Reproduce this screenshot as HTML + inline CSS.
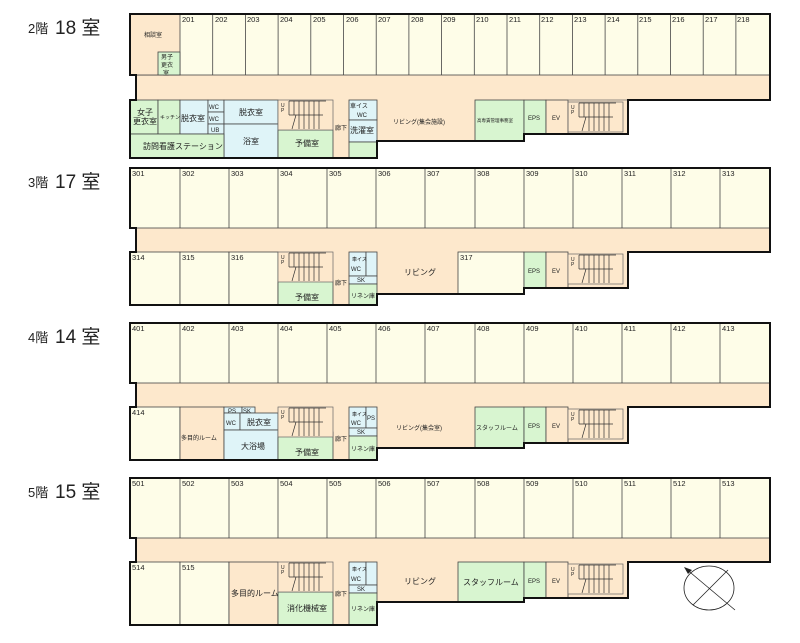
<!DOCTYPE html>
<html><head><meta charset="utf-8"><style>
body{margin:0;background:#fff;width:800px;height:638px;overflow:hidden}
svg text{font-family:"Liberation Sans","Noto Sans CJK JP",sans-serif;fill:#222}
.n{font-size:7.5px}
.l{font-size:8px}
.s{font-size:6px}
.t{font-size:5px}
</style></head><body>
<svg width="800" height="638" viewBox="0 0 800 638" xmlns="http://www.w3.org/2000/svg">
<defs>
<g id="stair">
<rect x="0" y="0" width="55" height="30" fill="#fde8cc" stroke="#666" stroke-width="0.7"/>
<text x="3" y="7" class="t">U</text><text x="3" y="12" class="t">P</text>
<g stroke="#333" stroke-width="0.7">
<line x1="11" y1="1" x2="11" y2="15"/><line x1="16" y1="1" x2="16" y2="15"/><line x1="21" y1="1" x2="21" y2="29"/><line x1="26" y1="1" x2="26" y2="29"/><line x1="31" y1="1" x2="31" y2="29"/><line x1="36" y1="1" x2="36" y2="29"/><line x1="41" y1="1" x2="41" y2="29"/>
<line x1="11" y1="15" x2="45" y2="15"/><line x1="11" y1="1" x2="48" y2="1"/>
<line x1="18" y1="15" x2="14" y2="29"/>
</g>
</g>
</defs>

<!-- ============ FLOOR 2 ============ -->
<text x="28" y="33" style="font-size:13px">2階</text><text x="55" y="34" style="font-size:19px">18 室</text>
<path d="M130 14H770V100H628V134H524V141H377V158H130V100H136V75H130Z" fill="#fde8cc"/>
<g stroke="#444" stroke-width="0.8">
<rect x="130" y="14" width="640" height="61" fill="#fefde8"/>
<rect x="130" y="14" width="50" height="61" fill="#fde8cc"/>
<rect x="158" y="52" width="22" height="23" fill="#d8f5d0"/>
<line x1="212.7" y1="14" x2="212.7" y2="75"/><line x1="245.4" y1="14" x2="245.4" y2="75"/><line x1="278.1" y1="14" x2="278.1" y2="75"/><line x1="310.8" y1="14" x2="310.8" y2="75"/><line x1="343.5" y1="14" x2="343.5" y2="75"/><line x1="376.2" y1="14" x2="376.2" y2="75"/><line x1="408.9" y1="14" x2="408.9" y2="75"/><line x1="441.6" y1="14" x2="441.6" y2="75"/><line x1="474.3" y1="14" x2="474.3" y2="75"/><line x1="507" y1="14" x2="507" y2="75"/><line x1="539.7" y1="14" x2="539.7" y2="75"/><line x1="572.4" y1="14" x2="572.4" y2="75"/><line x1="605.1" y1="14" x2="605.1" y2="75"/><line x1="637.8" y1="14" x2="637.8" y2="75"/><line x1="670.5" y1="14" x2="670.5" y2="75"/><line x1="703.2" y1="14" x2="703.2" y2="75"/><line x1="735.9" y1="14" x2="735.9" y2="75"/>
<rect x="130" y="100" width="28" height="34" fill="#d8f5d0"/>
<rect x="158" y="100" width="22" height="34" fill="#d8f5d0"/>
<rect x="180" y="100" width="28" height="34" fill="#dff4f8"/>
<rect x="208" y="100" width="16" height="12" fill="#dff4f8"/>
<rect x="208" y="112" width="16" height="12" fill="#dff4f8"/>
<rect x="208" y="124" width="16" height="10" fill="#dff4f8"/>
<rect x="224" y="100" width="54" height="24" fill="#dff4f8"/>
<rect x="224" y="124" width="54" height="34" fill="#dff4f8"/>
<rect x="130" y="134" width="94" height="24" fill="#d8f5d0"/>
<rect x="278" y="130" width="55" height="28" fill="#d8f5d0"/>
<rect x="349" y="100" width="28" height="20" fill="#dff4f8"/>
<rect x="349" y="120" width="28" height="22" fill="#dff4f8"/>
<rect x="349" y="142" width="28" height="16" fill="#d8f5d0"/>
<rect x="475" y="100" width="49" height="41" fill="#d8f5d0"/>
<rect x="524" y="100" width="22" height="34" fill="#d8f5d0"/>
<rect x="546" y="100" width="22" height="34" fill="#fde8cc"/>
</g>
<use href="#stair" x="278" y="100"/>
<use href="#stair" x="568" y="102"/>
<rect x="568" y="100" width="60" height="34" fill="none" stroke="#666" stroke-width="0.7"/>
<path d="M130 14H770V100H628V134H524V141H377V158H130V100H136V75H130Z" fill="none" stroke="#111" stroke-width="2"/>
<g class="n"><text x="182" y="22">201</text><text x="215" y="22">202</text><text x="247" y="22">203</text><text x="280" y="22">204</text><text x="313" y="22">205</text><text x="346" y="22">206</text><text x="378" y="22">207</text><text x="411" y="22">208</text><text x="443" y="22">209</text><text x="476" y="22">210</text><text x="509" y="22">211</text><text x="541" y="22">212</text><text x="574" y="22">213</text><text x="607" y="22">214</text><text x="639" y="22">215</text><text x="672" y="22">216</text><text x="705" y="22">217</text><text x="737" y="22">218</text></g>
<text x="144" y="37" class="s">相談室</text>
<text x="161" y="59" class="s">男子</text><text x="161" y="67" class="s">更衣</text><text x="163" y="75" class="s">室</text>
<text x="137" y="115" class="l">女子</text><text x="133" y="124" class="l">更衣室</text>
<text x="160" y="119" class="t">キッチン</text>
<text x="181" y="121" class="l">脱衣室</text>
<text x="209" y="109" class="s">WC</text><text x="209" y="121" class="s">WC</text><text x="211" y="132" class="s">UB</text>
<text x="239" y="115" class="l">脱衣室</text>
<text x="243" y="144" class="l">浴室</text>
<text x="143" y="149" class="l">訪問看護ステーション</text>
<text x="295" y="146" class="l">予備室</text>
<text x="335" y="130" class="s">廊下</text>
<text x="350" y="108" class="s">車イス</text><text x="357" y="117" class="s">WC</text>
<text x="350" y="133" class="l">洗濯室</text>
<text x="393" y="124" class="s">リビング(集会施設)</text>
<text x="477" y="122" style="font-size:4.5px">高専賃管理事務室</text>
<text x="528" y="120" class="s">EPS</text><text x="552" y="120" class="s">EV</text>

<!-- ============ FLOOR 3 ============ -->
<text x="28" y="187" style="font-size:13px">3階</text><text x="55" y="188" style="font-size:19px">17 室</text>
<path d="M130 168H770V252H628V288H524V294H377V305H130V252H136V228H130Z" fill="#fde8cc"/>
<g stroke="#444" stroke-width="0.8">
<rect x="130" y="168" width="640" height="60" fill="#fefde8"/>
<line x1="180" y1="168" x2="180" y2="228"/><line x1="229" y1="168" x2="229" y2="228"/><line x1="278" y1="168" x2="278" y2="228"/><line x1="327" y1="168" x2="327" y2="228"/><line x1="376" y1="168" x2="376" y2="228"/><line x1="425" y1="168" x2="425" y2="228"/><line x1="475" y1="168" x2="475" y2="228"/><line x1="524" y1="168" x2="524" y2="228"/><line x1="573" y1="168" x2="573" y2="228"/><line x1="622" y1="168" x2="622" y2="228"/><line x1="671" y1="168" x2="671" y2="228"/><line x1="720" y1="168" x2="720" y2="228"/>
<rect x="130" y="252" width="50" height="53" fill="#fefde8"/>
<rect x="180" y="252" width="49" height="53" fill="#fefde8"/>
<rect x="229" y="252" width="49" height="53" fill="#fefde8"/>
<rect x="278" y="281" width="55" height="24" fill="#d8f5d0"/>
<rect x="349" y="252" width="17" height="24" fill="#dff4f8"/>
<rect x="366" y="252" width="11" height="24" fill="#dff4f8"/>
<rect x="349" y="276" width="28" height="8" fill="#dff4f8"/>
<rect x="349" y="284" width="28" height="21" fill="#d8f5d0"/>
<rect x="458" y="252" width="66" height="42" fill="#fefde8"/>
<rect x="524" y="252" width="22" height="36" fill="#d8f5d0"/>
<rect x="546" y="252" width="22" height="36" fill="#fde8cc"/>
</g>
<use href="#stair" x="278" y="252"/>
<use href="#stair" x="568" y="254"/>
<path d="M130 168H770V252H628V288H524V294H377V305H130V252H136V228H130Z" fill="none" stroke="#111" stroke-width="2"/>
<g class="n"><text x="132" y="176">301</text><text x="182" y="176">302</text><text x="231" y="176">303</text><text x="280" y="176">304</text><text x="329" y="176">305</text><text x="378" y="176">306</text><text x="427" y="176">307</text><text x="477" y="176">308</text><text x="526" y="176">309</text><text x="575" y="176">310</text><text x="624" y="176">311</text><text x="673" y="176">312</text><text x="722" y="176">313</text>
<text x="132" y="260">314</text><text x="182" y="260">315</text><text x="231" y="260">316</text><text x="460" y="260">317</text></g>
<text x="295" y="300" class="l">予備室</text>
<text x="335" y="285" class="s">廊下</text>
<text x="352" y="261" class="t">車イス</text><text x="351" y="271" class="s">WC</text>
<text x="357" y="282" class="s">SK</text>
<text x="351" y="298" class="s">リネン庫</text>
<text x="404" y="275" class="l">リビング</text>
<text x="528" y="273" class="s">EPS</text><text x="552" y="273" class="s">EV</text>

<!-- ============ FLOOR 4 ============ -->
<text x="28" y="342" style="font-size:13px">4階</text><text x="55" y="343" style="font-size:19px">14 室</text>
<path d="M130 323H770V407H628V443H524V448H377V460H130V407H136V383H130Z" fill="#fde8cc"/>
<g stroke="#444" stroke-width="0.8">
<rect x="130" y="323" width="640" height="60" fill="#fefde8"/>
<line x1="180" y1="323" x2="180" y2="383"/><line x1="229" y1="323" x2="229" y2="383"/><line x1="278" y1="323" x2="278" y2="383"/><line x1="327" y1="323" x2="327" y2="383"/><line x1="376" y1="323" x2="376" y2="383"/><line x1="425" y1="323" x2="425" y2="383"/><line x1="475" y1="323" x2="475" y2="383"/><line x1="524" y1="323" x2="524" y2="383"/><line x1="573" y1="323" x2="573" y2="383"/><line x1="622" y1="323" x2="622" y2="383"/><line x1="671" y1="323" x2="671" y2="383"/><line x1="720" y1="323" x2="720" y2="383"/>
<rect x="130" y="407" width="50" height="53" fill="#fefde8"/>
<rect x="180" y="407" width="44" height="53" fill="#fde8cc"/>
<rect x="224" y="407" width="18" height="6" fill="#dff4f8"/>
<rect x="242" y="407" width="13" height="6" fill="#dff4f8"/>
<rect x="224" y="413" width="16" height="17" fill="#dff4f8"/>
<rect x="240" y="413" width="38" height="17" fill="#dff4f8"/>
<rect x="224" y="430" width="54" height="30" fill="#dff4f8"/>
<rect x="278" y="432" width="55" height="28" fill="#d8f5d0"/>
<rect x="349" y="407" width="17" height="21" fill="#dff4f8"/>
<rect x="366" y="407" width="11" height="21" fill="#dff4f8"/>
<rect x="349" y="428" width="28" height="8" fill="#dff4f8"/>
<rect x="349" y="436" width="28" height="24" fill="#d8f5d0"/>
<rect x="475" y="407" width="49" height="41" fill="#d8f5d0"/>
<rect x="524" y="407" width="22" height="36" fill="#d8f5d0"/>
<rect x="546" y="407" width="22" height="36" fill="#fde8cc"/>
</g>
<use href="#stair" x="278" y="407"/>
<use href="#stair" x="568" y="409"/>
<path d="M130 323H770V407H628V443H524V448H377V460H130V407H136V383H130Z" fill="none" stroke="#111" stroke-width="2"/>
<g class="n"><text x="132" y="331">401</text><text x="182" y="331">402</text><text x="231" y="331">403</text><text x="280" y="331">404</text><text x="329" y="331">405</text><text x="378" y="331">406</text><text x="427" y="331">407</text><text x="477" y="331">408</text><text x="526" y="331">409</text><text x="575" y="331">410</text><text x="624" y="331">411</text><text x="673" y="331">412</text><text x="722" y="331">413</text>
<text x="132" y="415">414</text></g>
<text x="181" y="440" class="s">多目的ルーム</text>
<text x="228" y="413" class="s">PS</text><text x="243" y="413" class="s">SK</text>
<text x="226" y="425" class="s">WC</text>
<text x="247" y="425" class="l">脱衣室</text>
<text x="241" y="449" class="l">大浴場</text>
<text x="295" y="455" class="l">予備室</text>
<text x="335" y="441" class="s">廊下</text>
<text x="352" y="416" class="t">車イス</text><text x="351" y="425" class="s">WC</text><text x="367" y="420" class="s">PS</text>
<text x="357" y="434" class="s">SK</text>
<text x="351" y="451" class="s">リネン庫</text>
<text x="396" y="430" class="s">リビング(集会室)</text>
<text x="476" y="430" class="s">スタッフルーム</text>
<text x="528" y="428" class="s">EPS</text><text x="552" y="428" class="s">EV</text>

<!-- ============ FLOOR 5 ============ -->
<text x="28" y="497" style="font-size:13px">5階</text><text x="55" y="498" style="font-size:19px">15 室</text>
<path d="M130 478H770V562H628V598H524V602H377V625H130V562H136V538H130Z" fill="#fde8cc"/>
<g stroke="#444" stroke-width="0.8">
<rect x="130" y="478" width="640" height="60" fill="#fefde8"/>
<line x1="180" y1="478" x2="180" y2="538"/><line x1="229" y1="478" x2="229" y2="538"/><line x1="278" y1="478" x2="278" y2="538"/><line x1="327" y1="478" x2="327" y2="538"/><line x1="376" y1="478" x2="376" y2="538"/><line x1="425" y1="478" x2="425" y2="538"/><line x1="475" y1="478" x2="475" y2="538"/><line x1="524" y1="478" x2="524" y2="538"/><line x1="573" y1="478" x2="573" y2="538"/><line x1="622" y1="478" x2="622" y2="538"/><line x1="671" y1="478" x2="671" y2="538"/><line x1="720" y1="478" x2="720" y2="538"/>
<rect x="130" y="562" width="50" height="63" fill="#fefde8"/>
<rect x="180" y="562" width="49" height="63" fill="#fefde8"/>
<rect x="229" y="562" width="49" height="63" fill="#fde8cc"/>
<rect x="278" y="592" width="55" height="33" fill="#d8f5d0"/>
<rect x="349" y="562" width="17" height="23" fill="#dff4f8"/>
<rect x="366" y="562" width="11" height="23" fill="#dff4f8"/>
<rect x="349" y="585" width="28" height="8" fill="#dff4f8"/>
<rect x="349" y="593" width="28" height="32" fill="#d8f5d0"/>
<rect x="458" y="562" width="66" height="40" fill="#d8f5d0"/>
<rect x="524" y="562" width="22" height="36" fill="#d8f5d0"/>
<rect x="546" y="562" width="22" height="36" fill="#fde8cc"/>
</g>
<use href="#stair" x="278" y="562"/>
<use href="#stair" x="568" y="564"/>
<path d="M130 478H770V562H628V598H524V602H377V625H130V562H136V538H130Z" fill="none" stroke="#111" stroke-width="2"/>
<g class="n"><text x="132" y="486">501</text><text x="182" y="486">502</text><text x="231" y="486">503</text><text x="280" y="486">504</text><text x="329" y="486">505</text><text x="378" y="486">506</text><text x="427" y="486">507</text><text x="477" y="486">508</text><text x="526" y="486">509</text><text x="575" y="486">510</text><text x="624" y="486">511</text><text x="673" y="486">512</text><text x="722" y="486">513</text>
<text x="132" y="570">514</text><text x="182" y="570">515</text></g>
<text x="231" y="596" class="l">多目的ルーム</text>
<text x="287" y="611" class="l">消化機械室</text>
<text x="335" y="596" class="s">廊下</text>
<text x="352" y="571" class="t">車イス</text><text x="351" y="581" class="s">WC</text>
<text x="357" y="591" class="s">SK</text>
<text x="351" y="611" class="s">リネン庫</text>
<text x="404" y="584" class="l">リビング</text>
<text x="463" y="585" class="l">スタッフルーム</text>
<text x="528" y="583" class="s">EPS</text><text x="552" y="583" class="s">EV</text>

<!-- compass -->
<ellipse cx="709" cy="588" rx="25" ry="22" fill="none" stroke="#222" stroke-width="0.8"/>
<line x1="685" y1="568" x2="735" y2="610" stroke="#222" stroke-width="0.8"/>
<line x1="693" y1="605" x2="728" y2="570" stroke="#222" stroke-width="0.8"/>
<path d="M684 567L692 570L688 574Z" fill="#222"/>
</svg>
</body></html>
